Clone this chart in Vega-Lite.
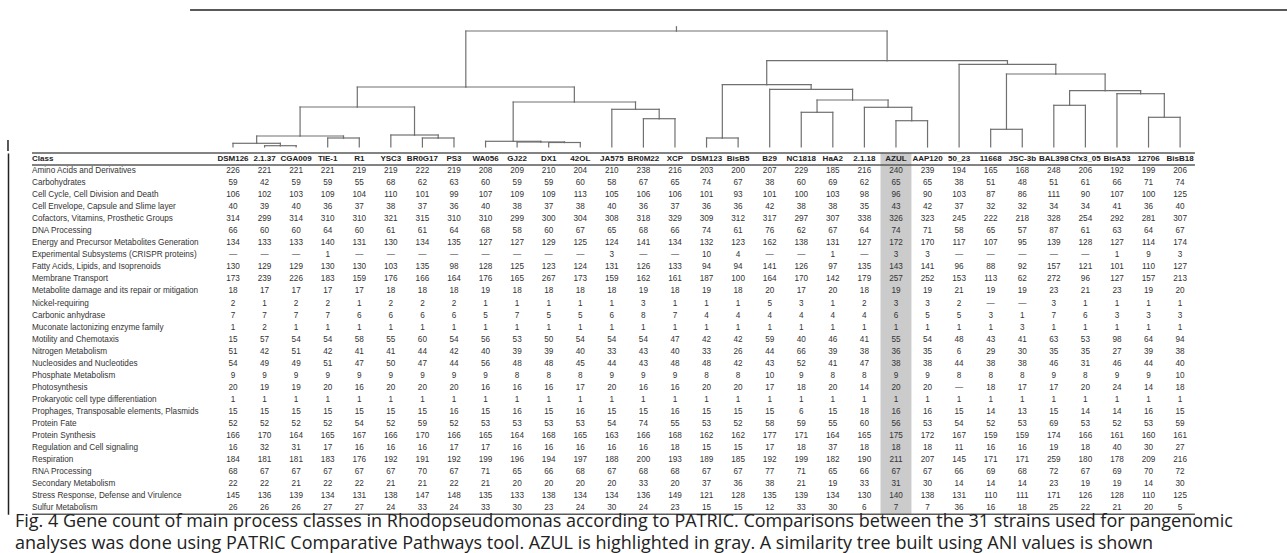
{
  "$schema": "https://vega.github.io/schema/vega-lite/v6.json",
  "padding": 0,
  "background": "white",
  "spacing": 0,
  "config": {"view": {"stroke": null}, "font": "Liberation Sans"},
  "title": {
    "text": ["Fig. 4  Gene count of main process classes in Rhodopseudomonas according to PATRIC. Comparisons between the 31 strains used for pangenomic", "analyses was done using PATRIC Comparative Pathways tool. AZUL is highlighted in gray. A similarity tree built using ANI values is shown"],
    "orient": "bottom", "anchor": "start", "font": "Open Sans", "fontSize": 18, "fontWeight": "normal", "color": "#222", "offset": -2, "lineHeight": 22, "dx": 15
  },
  "datasets": {
    "tree": [
      {"id": "DSM126", "parent": "A1a", "pos": 0, "h": 0},
      {"id": "2.1.37", "parent": "n1", "pos": 1, "h": 0},
      {"id": "CGA009", "parent": "n1", "pos": 2, "h": 0},
      {"id": "TIE-1", "parent": "n2", "pos": 3, "h": 0},
      {"id": "R1", "parent": "n2", "pos": 4, "h": 0},
      {"id": "YSC3", "parent": "A2", "pos": 5, "h": 0},
      {"id": "BR0G17", "parent": "n3", "pos": 6, "h": 0},
      {"id": "PS3", "parent": "n3", "pos": 7, "h": 0},
      {"id": "WA056", "parent": "B1", "pos": 8, "h": 0},
      {"id": "GJ22", "parent": "B1a", "pos": 9, "h": 0},
      {"id": "DX1", "parent": "B1b", "pos": 10, "h": 0},
      {"id": "42OL", "parent": "B1b", "pos": 11, "h": 0},
      {"id": "JA575", "parent": "B2", "pos": 12, "h": 0},
      {"id": "BR0M22", "parent": "n4", "pos": 13, "h": 0},
      {"id": "XCP", "parent": "n4", "pos": 14, "h": 0},
      {"id": "DSM123", "parent": "C1", "pos": 15, "h": 0},
      {"id": "BisB5", "parent": "C1", "pos": 16, "h": 0},
      {"id": "B29", "parent": "C2", "pos": 17, "h": 0},
      {"id": "NC1818", "parent": "n5", "pos": 18, "h": 0},
      {"id": "HaA2", "parent": "n5", "pos": 19, "h": 0},
      {"id": "2.1.18", "parent": "C2b", "pos": 20, "h": 0},
      {"id": "AZUL", "parent": "n6", "pos": 21, "h": 0},
      {"id": "AAP120", "parent": "n6", "pos": 22, "h": 0},
      {"id": "50_23", "parent": "D", "pos": 23, "h": 0},
      {"id": "11668", "parent": "n7", "pos": 24, "h": 0},
      {"id": "JSC-3b", "parent": "n7", "pos": 25, "h": 0},
      {"id": "BAL398", "parent": "n8", "pos": 26, "h": 0},
      {"id": "Cfx3_05", "parent": "n8", "pos": 27, "h": 0},
      {"id": "BisA53", "parent": "D3", "pos": 28, "h": 0},
      {"id": "12706", "parent": "n9", "pos": 29, "h": 0},
      {"id": "BisB18", "parent": "n9", "pos": 30, "h": 0},
      {"id": "n1", "parent": "A1a", "pos": 1.5, "h": 0.0013},
      {"id": "A1a", "parent": "A1", "pos": 0.75, "h": 0.0037},
      {"id": "n2", "parent": "A1", "pos": 3.5, "h": 0.009},
      {"id": "A1", "parent": "A", "pos": 2.125, "h": 0.011},
      {"id": "n3", "parent": "A2", "pos": 6.5, "h": 0.009},
      {"id": "A2", "parent": "A", "pos": 5.75, "h": 0.012},
      {"id": "A", "parent": "L", "pos": 3.9375, "h": 0.04},
      {"id": "B1b", "parent": "B1a", "pos": 10.5, "h": 0.0045},
      {"id": "B1a", "parent": "B1", "pos": 9.75, "h": 0.005},
      {"id": "B1", "parent": "B", "pos": 8.875, "h": 0.0057},
      {"id": "n4", "parent": "B2", "pos": 13.5, "h": 0.0283},
      {"id": "B2", "parent": "B", "pos": 12.75, "h": 0.0377},
      {"id": "B", "parent": "L", "pos": 10.8125, "h": 0.045},
      {"id": "L", "parent": "root", "pos": 7.375, "h": 0.06},
      {"id": "C1", "parent": "C", "pos": 15.5, "h": 0.009},
      {"id": "n5", "parent": "C2a", "pos": 18.5, "h": 0.0347},
      {"id": "n6", "parent": "C2b", "pos": 21.5, "h": 0.0263},
      {"id": "C2b", "parent": "C2a", "pos": 20.75, "h": 0.0397},
      {"id": "C2a", "parent": "C2", "pos": 19.625, "h": 0.047},
      {"id": "C2", "parent": "C", "pos": 18.3125, "h": 0.0577},
      {"id": "C", "parent": "R", "pos": 16.90625, "h": 0.0623},
      {"id": "n7", "parent": "D1", "pos": 24.5, "h": 0.0177},
      {"id": "n8", "parent": "D2", "pos": 26.5, "h": 0.0417},
      {"id": "n9", "parent": "D3", "pos": 29.5, "h": 0.0297},
      {"id": "D3", "parent": "D2", "pos": 28.75, "h": 0.0533},
      {"id": "D2", "parent": "D1", "pos": 27.625, "h": 0.0563},
      {"id": "D1", "parent": "D", "pos": 26.0625, "h": 0.073},
      {"id": "D", "parent": "R", "pos": 24.53125, "h": 0.0827},
      {"id": "R", "parent": "root", "pos": 20.71875, "h": 0.0863},
      {"id": "root", "parent": "top", "pos": 14.046875, "h": 0.116},
      {"id": "top", "parent": null, "pos": 14.046875, "h": 0.12}
    ],
    "counts": [
      {"Class": "Amino Acids and Derivatives", "v": [226,221,221,221,219,219,222,219,208,209,210,204,210,238,216,203,200,207,229,185,216,240,239,194,165,168,248,206,192,199,206]},
      {"Class": "Carbohydrates", "v": [59,42,59,59,55,68,62,63,60,59,59,60,58,67,65,74,67,38,60,69,62,65,65,38,51,48,51,61,66,71,74]},
      {"Class": "Cell Cycle, Cell Division and Death", "v": [106,102,103,109,104,110,101,99,107,109,109,113,105,106,106,101,93,101,100,103,98,96,90,103,87,86,111,90,107,100,125]},
      {"Class": "Cell Envelope, Capsule and Slime layer", "v": [40,39,40,36,37,38,37,36,40,38,37,38,40,36,37,36,36,42,38,38,35,43,42,37,32,32,34,34,41,36,40]},
      {"Class": "Cofactors, Vitamins, Prosthetic Groups", "v": [314,299,314,310,310,321,315,310,310,299,300,304,308,318,329,309,312,317,297,307,338,326,323,245,222,218,328,254,292,281,307]},
      {"Class": "DNA Processing", "v": [66,60,60,64,60,61,61,64,68,58,60,67,65,68,66,74,61,76,62,67,64,74,71,58,65,57,87,61,63,64,67]},
      {"Class": "Energy and Precursor Metabolites Generation", "v": [134,133,133,140,131,130,134,135,127,127,129,125,124,141,134,132,123,162,138,131,127,172,170,117,107,95,139,128,127,114,174]},
      {"Class": "Experimental Subsystems (CRISPR proteins)", "v": ["—","—","—",1,"—","—","—","—","—","—","—","—",3,"—","—",10,4,"—","—",1,"—",3,3,"—","—","—","—","—",1,9,3]},
      {"Class": "Fatty Acids, Lipids, and Isoprenoids", "v": [130,129,129,130,130,103,135,98,128,125,123,124,131,126,133,94,94,141,126,97,135,143,141,96,88,92,157,121,101,110,127]},
      {"Class": "Membrane Transport", "v": [173,239,226,183,159,176,166,164,176,165,267,173,159,162,161,187,100,164,170,142,179,257,252,153,113,62,272,96,127,157,213]},
      {"Class": "Metabolite damage and its repair or mitigation", "v": [18,17,17,17,17,18,18,18,19,18,18,18,18,19,18,19,18,20,17,20,18,19,19,21,19,19,23,21,23,19,20]},
      {"Class": "Nickel-requiring", "v": [2,1,2,2,1,2,2,2,1,1,1,1,1,3,1,1,1,5,3,1,2,3,3,2,"—","—",3,1,1,1,1]},
      {"Class": "Carbonic anhydrase", "v": [7,7,7,7,6,6,6,6,5,7,5,5,6,8,7,4,4,4,4,4,4,6,5,5,3,1,7,6,3,3,3]},
      {"Class": "Muconate lactonizing enzyme family", "v": [1,2,1,1,1,1,1,1,1,1,1,1,1,1,1,1,1,1,1,1,1,1,1,1,1,3,1,1,1,1,1]},
      {"Class": "Motility and Chemotaxis", "v": [15,57,54,54,58,55,60,54,56,53,50,54,54,54,47,42,42,59,40,46,41,55,54,48,43,41,63,53,98,64,94]},
      {"Class": "Nitrogen Metabolism", "v": [51,42,51,42,41,41,44,42,40,39,39,40,33,43,40,33,26,44,66,39,38,36,35,6,29,30,35,35,27,39,38]},
      {"Class": "Nucleosides and Nucleotides", "v": [54,49,49,51,47,50,47,44,56,48,48,45,44,43,48,48,42,43,52,41,47,38,38,44,38,38,46,31,46,44,40]},
      {"Class": "Phosphate Metabolism", "v": [9,9,9,9,9,9,9,9,9,8,8,8,9,9,9,8,8,10,9,8,8,9,9,8,8,8,9,8,9,9,10]},
      {"Class": "Photosynthesis", "v": [20,19,19,20,16,20,20,20,16,16,16,17,20,16,16,20,20,17,18,20,14,20,20,"—",18,17,17,20,24,14,18]},
      {"Class": "Prokaryotic cell type differentiation", "v": [1,1,1,1,1,1,1,1,1,1,1,1,1,1,1,1,1,1,1,1,1,1,1,1,1,1,1,1,1,1,1]},
      {"Class": "Prophages, Transposable elements, Plasmids", "v": [15,15,15,15,15,15,15,16,15,16,15,16,15,15,16,15,15,15,6,15,18,16,16,15,14,13,15,14,14,16,15]},
      {"Class": "Protein Fate", "v": [52,52,52,52,54,52,59,52,53,53,53,53,54,74,55,53,52,58,59,55,60,56,53,54,52,53,69,53,52,53,59]},
      {"Class": "Protein Synthesis", "v": [166,170,164,165,167,166,170,166,165,164,168,165,163,166,168,162,162,177,171,164,165,175,172,167,159,159,174,166,161,160,161]},
      {"Class": "Regulation and Cell signaling", "v": [16,32,31,17,16,16,16,17,17,16,16,16,16,16,18,15,15,17,18,37,18,18,18,11,16,16,19,18,40,30,27]},
      {"Class": "Respiration", "v": [184,181,181,183,176,192,191,192,199,196,194,197,188,200,193,189,185,192,199,182,190,211,207,145,171,171,259,180,178,209,216]},
      {"Class": "RNA Processing", "v": [68,67,67,67,67,67,70,67,71,65,66,68,67,68,68,67,67,77,71,65,66,67,67,66,69,68,72,67,69,70,72]},
      {"Class": "Secondary Metabolism", "v": [22,22,21,22,22,21,21,22,21,20,20,20,20,33,20,37,36,38,21,19,33,31,30,14,14,14,23,19,19,14,30]},
      {"Class": "Stress Response, Defense and Virulence", "v": [145,136,139,134,131,138,147,148,135,133,138,134,134,136,149,121,128,135,139,134,130,140,138,131,110,111,171,126,128,110,125]},
      {"Class": "Sulfur Metabolism", "v": [26,26,26,27,27,24,33,24,33,30,23,24,30,24,23,15,15,12,33,30,6,7,7,36,16,18,25,22,21,20,5]}
    ]
  },
  "vconcat": [
    {
      "width": 1287,
      "height": 151,
      "layer": [
        {
          "data": {"name": "tree"},
          "transform": [
            {"lookup": "parent", "from": {"data": {"name": "tree"}, "key": "id", "fields": ["pos", "h"]}, "as": ["ppos", "ph"]},
            {"filter": "datum.ph != null"}
          ],
          "mark": {"type": "rule", "color": "#707070", "strokeWidth": 1.2, "strokeCap": "square"},
          "encoding": {
            "x": {"field": "pos", "type": "quantitative", "axis": null, "scale": {"domain": [-7.38, 33.386], "nice": false, "zero": false}},
            "y": {"field": "h", "type": "quantitative", "axis": null, "scale": {"domain": [-0.004, 0.147], "nice": false, "zero": false}},
            "y2": {"field": "ph"}
          }
        },
        {
          "data": {"name": "tree"},
          "transform": [
            {"lookup": "parent", "from": {"data": {"name": "tree"}, "key": "id", "fields": ["pos", "h"]}, "as": ["ppos", "ph"]},
            {"filter": "datum.ph != null"}
          ],
          "mark": {"type": "rule", "color": "#707070", "strokeWidth": 1.2, "strokeCap": "square"},
          "encoding": {
            "x": {"field": "pos", "type": "quantitative"},
            "x2": {"field": "ppos"},
            "y": {"field": "ph", "type": "quantitative"}
          }
        },
        {
          "data": {"values": [{"frame": "top", "x0": -1.36, "x1": 33.386, "y0": 0.137, "y1": 0.137}, {"frame": "left", "x0": -7.127, "x1": -7.127, "y0": 0.007, "y1": -0.004}]},
          "mark": {"type": "rule", "color": "#222", "strokeWidth": 1.5},
          "encoding": {
            "x": {"field": "x0", "type": "quantitative"},
            "x2": {"field": "x1"},
            "y": {"field": "y0", "type": "quantitative"},
            "y2": {"field": "y1"}
          }
        }
      ]
    },
    {
      "width": 1287,
      "height": 361.2,
      "layer": [
        {
          "data": {"name": "tree"},
          "transform": [
            {"filter": "datum.id == 'AZUL'"},
            {"calculate": "datum.pos - 0.49", "as": "lo"},
            {"calculate": "datum.pos + 0.49", "as": "hi"}
          ],
          "mark": {"type": "rect", "color": "#cbcbcb"},
          "encoding": {
            "x": {"field": "lo", "type": "quantitative", "axis": null, "scale": {"domain": [-7.38, 33.386], "nice": false, "zero": false}},
            "x2": {"field": "hi"},
            "y": {"datum": -0.5, "type": "quantitative", "scale": {"domain": [-0.5, 29.5], "reverse": true, "nice": false, "zero": false},
              "axis": {"orient": "left", "offset": -8, "domain": true, "domainColor": "#222", "domainWidth": 1.5, "ticks": false, "labels": false, "grid": false, "title": null}},
            "y2": {"datum": 29.5}
          }
        },
        {
          "data": {"values": [{"line": "top", "at": -0.5}, {"line": "header", "at": 0.5}, {"line": "bottom", "at": 29.5}]},
          "mark": {"type": "rule", "color": "#5a5a5a", "strokeWidth": 1.6},
          "encoding": {
            "x": {"datum": -6.367, "type": "quantitative"},
            "x2": {"datum": 30.47},
            "y": {"field": "at", "type": "quantitative"}
          }
        },
        {
          "data": {"values": [{"label": "Class"}]},
          "mark": {"type": "text", "align": "left", "baseline": "middle", "fontWeight": "bold", "fontSize": 8, "color": "#222"},
          "encoding": {
            "x": {"datum": -6.367, "type": "quantitative"},
            "y": {"datum": 0, "type": "quantitative"},
            "text": {"field": "label"}
          }
        },
        {
          "data": {"name": "tree"},
          "transform": [{"filter": "datum.h == 0"}],
          "mark": {"type": "text", "align": "center", "baseline": "middle", "fontWeight": "bold", "fontSize": 8, "color": "#222"},
          "encoding": {
            "x": {"field": "pos", "type": "quantitative"},
            "y": {"datum": 0, "type": "quantitative"},
            "text": {"field": "id"}
          }
        },
        {
          "data": {"name": "counts"},
          "transform": [{"window": [{"op": "row_number", "as": "row"}]}],
          "mark": {"type": "text", "align": "left", "baseline": "middle", "fontSize": 8.2, "color": "#333"},
          "encoding": {
            "x": {"datum": -6.367, "type": "quantitative"},
            "y": {"field": "row", "type": "quantitative"},
            "text": {"field": "Class"}
          }
        },
        {
          "data": {"name": "counts"},
          "transform": [
            {"window": [{"op": "row_number", "as": "row"}]},
            {"flatten": ["v"], "as": ["value"]},
            {"window": [{"op": "row_number", "as": "col"}], "groupby": ["Class"]},
            {"calculate": "datum.col - 1", "as": "pos"}
          ],
          "mark": {"type": "text", "align": "center", "baseline": "middle", "fontSize": 8.2, "color": "#333"},
          "encoding": {
            "x": {"field": "pos", "type": "quantitative"},
            "y": {"field": "row", "type": "quantitative"},
            "text": {"field": "value"}
          }
        }
      ]
    }
  ]
}
